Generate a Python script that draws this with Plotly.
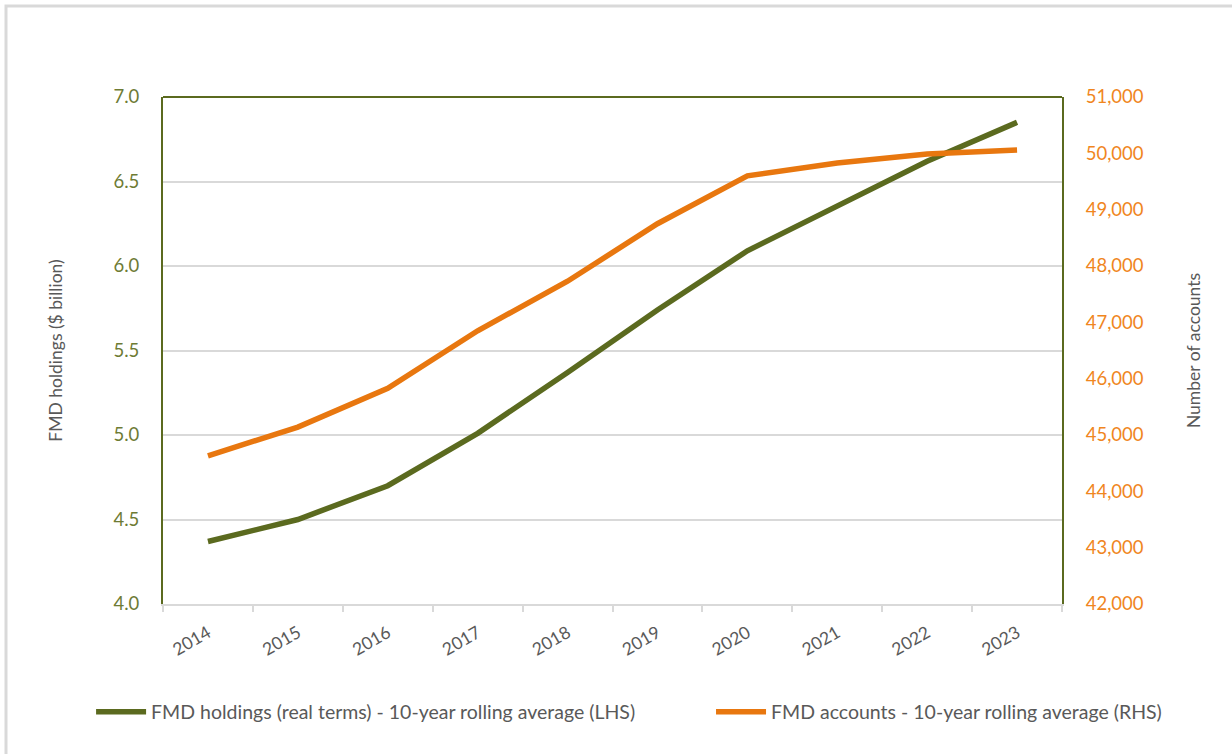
import plotly.graph_objects as go

years = ["2014", "2015", "2016", "2017", "2018", "2019", "2020", "2021", "2022", "2023"]
holdings = [4.37, 4.50, 4.70, 5.01, 5.37, 5.74, 6.09, 6.355, 6.62, 6.85]
accounts = [44630, 45140, 45830, 46850, 47730, 48750, 49600, 49830, 49990, 50060]

left_ticks = [4.0, 4.5, 5.0, 5.5, 6.0, 6.5, 7.0]
right_ticks = [42000, 43000, 44000, 45000, 46000, 47000, 48000, 49000, 50000, 51000]

GREEN = "#5B6A1F"
ORANGE = "#E8770F"
GREY = "#595959"
FONT = "Lato"

fig = go.Figure()
fig.add_trace(go.Scatter(
    x=years, y=holdings, mode="lines", name="FMD holdings (real terms) - 10-year rolling average (LHS)",
    line=dict(color=GREEN, width=5.5), yaxis="y", legend="legend"))
fig.add_trace(go.Scatter(
    x=years, y=accounts, mode="lines", name="FMD accounts - 10-year rolling average (RHS)",
    line=dict(color=ORANGE, width=5.5), yaxis="y2", legend="legend2"))

leg_common = dict(orientation="h", y=-0.213, xanchor="left", yanchor="middle",
                  bgcolor="rgba(0,0,0,0)", itemwidth=50,
                  font=dict(family=FONT, size=19.5, color=GREY))

fig.update_layout(
    width=1232, height=754,
    margin=dict(l=163, r=170, t=97, b=150),
    paper_bgcolor="white", plot_bgcolor="white",
    font=dict(family=FONT, size=18, color=GREY),
    showlegend=True,
    legend=dict(x=-0.08, **leg_common),
    legend2=dict(x=0.6096, **leg_common),
    xaxis=dict(type="category", range=[-0.5, 9.5], tickson="boundaries",
               ticks="outside", ticklen=6, tickcolor="#D9D9D9", tickwidth=2,
               showline=True, linecolor="#D9D9D9", linewidth=2,
               showgrid=False, tickangle=-30, ticklabelstandoff=10,
               tickfont=dict(family=FONT, size=17.5, color=GREY)),
    yaxis=dict(range=[4.0, 7.0], tickvals=left_ticks, ticktext=[f"{v:.1f}" for v in left_ticks],
               showline=True, linecolor=GREEN, linewidth=2,
               showgrid=True, gridcolor="#D9D9D9", gridwidth=2, zeroline=False,
               ticks="", ticklabelstandoff=18,
               tickfont=dict(family=FONT, size=18.5, color="#6E7B34"),
               title=dict(text="FMD holdings ($ billion)", standoff=46,
                          font=dict(family=FONT, size=17.5, color=GREY))),
    yaxis2=dict(range=[42000, 51000], tickvals=right_ticks,
                ticktext=[f"{v:,}" for v in right_ticks],
                overlaying="y", side="right",
                showline=True, linecolor=GREEN, linewidth=2,
                showgrid=False, zeroline=False, ticks="", ticklabelstandoff=18,
                tickfont=dict(family=FONT, size=18.5, color="#F0861E"),
                title=dict(text="Number of accounts", standoff=45,
                           font=dict(family=FONT, size=17.5, color=GREY))),
    shapes=[
        dict(type="line", xref="paper", yref="paper", x0=0, x1=1, y0=1, y1=1,
             line=dict(color=GREEN, width=2)),
        dict(type="rect", xref="paper", yref="paper",
             x0=(6 - 163) / 899, x1=(1300 - 163) / 899,
             y0=(604 - 800) / 507, y1=(604 - 6) / 507,
             line=dict(color="#D9D9D9", width=3), layer="below"),
    ],
)

fig.write_html("out.html")
